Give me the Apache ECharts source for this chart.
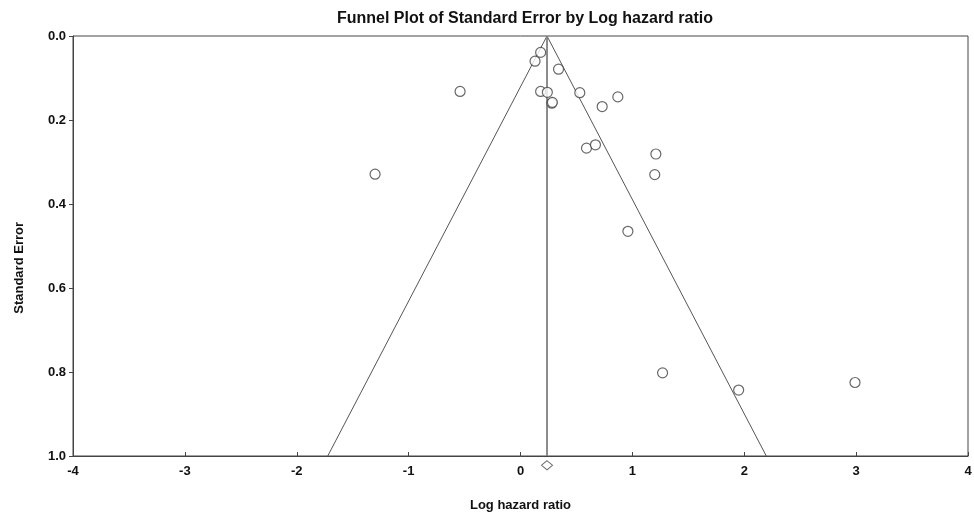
<!DOCTYPE html>
<html>
<head>
<meta charset="utf-8">
<script src="https://cdn.jsdelivr.net/npm/echarts@6/dist/echarts.min.js"></script>
<style>
  html, body { margin: 0; padding: 0; background: #fff; }
  #chart { width: 974px; height: 512px; }
</style>
</head>
<body>
<div id="chart"></div>
<script>
// study points: log hazard ratio and standard error
const studyLogHR = [-1.30, -0.54, 0.13, 0.18, 0.18, 0.24, 0.28, 0.285, 0.34, 0.53, 0.59, 0.67, 0.73, 0.87, 0.96, 1.21, 1.20, 1.27, 1.95, 2.99]
const studySE    = [0.329, 0.132, 0.060, 0.039, 0.132, 0.134, 0.160, 0.158, 0.079, 0.135, 0.267, 0.259, 0.168, 0.145, 0.465, 0.281, 0.330, 0.802, 0.843, 0.825]

// funnel (pooled estimate and 95% limits)
const pooledLogHR = 0.237
const funnelX  = [-1.723, 0.237, 2.197]
const funnelSE = [1.0, 0.0, 1.0]
const centerX  = [0.237, 0.237]
const centerSE = [0.0, 1.0]
const diamondSE = 1.022

const xTicks = [-4, -3, -2, -1, 0, 1, 2, 3, 4]
const yTicks = [0, 0.2, 0.4, 0.6, 0.8, 1.0]

const font = 'Liberation Sans, Arial, sans-serif'
const chart = echarts.init(document.getElementById('chart'))

chart.setOption({
  animation: false,
  backgroundColor: '#fff',
  title: {
    text: 'Funnel Plot of Standard Error by Log hazard ratio',
    left: 520, top: 6, textAlign: 'center',
    textStyle: { fontFamily: font, fontSize: 16, fontWeight: 'bold', color: '#111' }
  },
  grid: {
    left: 73, right: 6, top: 36, bottom: 56,
    outerBoundsMode: 'none',
    show: true, borderColor: '#444', borderWidth: 1
  },
  xAxis: {
    type: 'value', min: xTicks[0], max: xTicks[xTicks.length - 1], interval: 1,
    name: 'Log hazard ratio', nameLocation: 'middle', nameGap: 43,
    nameTextStyle: { fontFamily: font, fontSize: 13, fontWeight: 'bold', color: '#111' },
    axisLine: { show: true, onZero: false, lineStyle: { color: '#444', width: 1 } },
    axisTick: { show: true, inside: true, length: 4, lineStyle: { color: '#444' } },
    axisLabel: { fontFamily: font, fontSize: 13, fontWeight: 'bold', color: '#111', margin: 9 },
    splitLine: { show: false }
  },
  yAxis: {
    type: 'value', inverse: true, min: yTicks[0], max: yTicks[yTicks.length - 1], interval: 0.2,
    axisLine: { show: true, onZero: false, lineStyle: { color: '#444', width: 1 } },
    axisTick: { show: true, length: 4, lineStyle: { color: '#444' } },
    axisLabel: {
      fontFamily: font, fontSize: 13, fontWeight: 'bold', color: '#111', margin: 7,
      formatter: v => v.toFixed(1)
    },
    splitLine: { show: false }
  },
  graphic: [{
    type: 'text', left: 13, top: 222, rotation: Math.PI / 2,
    style: { text: 'Standard Error', font: 'bold 13px ' + font, fill: '#111' }
  }],
  series: [
    {
      type: 'line', data: funnelX.map((x, i) => [x, funnelSE[i]]),
      symbol: 'none', lineStyle: { color: '#555', width: 1 }, z: 2
    },
    {
      type: 'line', data: centerX.map((x, i) => [x, centerSE[i]]),
      symbol: 'none', lineStyle: { color: '#808080', width: 1.8 }, z: 2
    },
    {
      type: 'scatter', data: studyLogHR.map((x, i) => [x, studySE[i]]),
      symbol: 'circle', symbolSize: 10,
      itemStyle: { color: '#fff', borderColor: '#444', borderWidth: 1.2 }, z: 3
    },
    {
      type: 'scatter', data: [[pooledLogHR, diamondSE]], clip: false,
      symbol: 'diamond', symbolSize: [11, 9],
      itemStyle: { color: '#fff', borderColor: '#444', borderWidth: 1 }, z: 3
    }
  ]
})
</script>
</body>
</html>
